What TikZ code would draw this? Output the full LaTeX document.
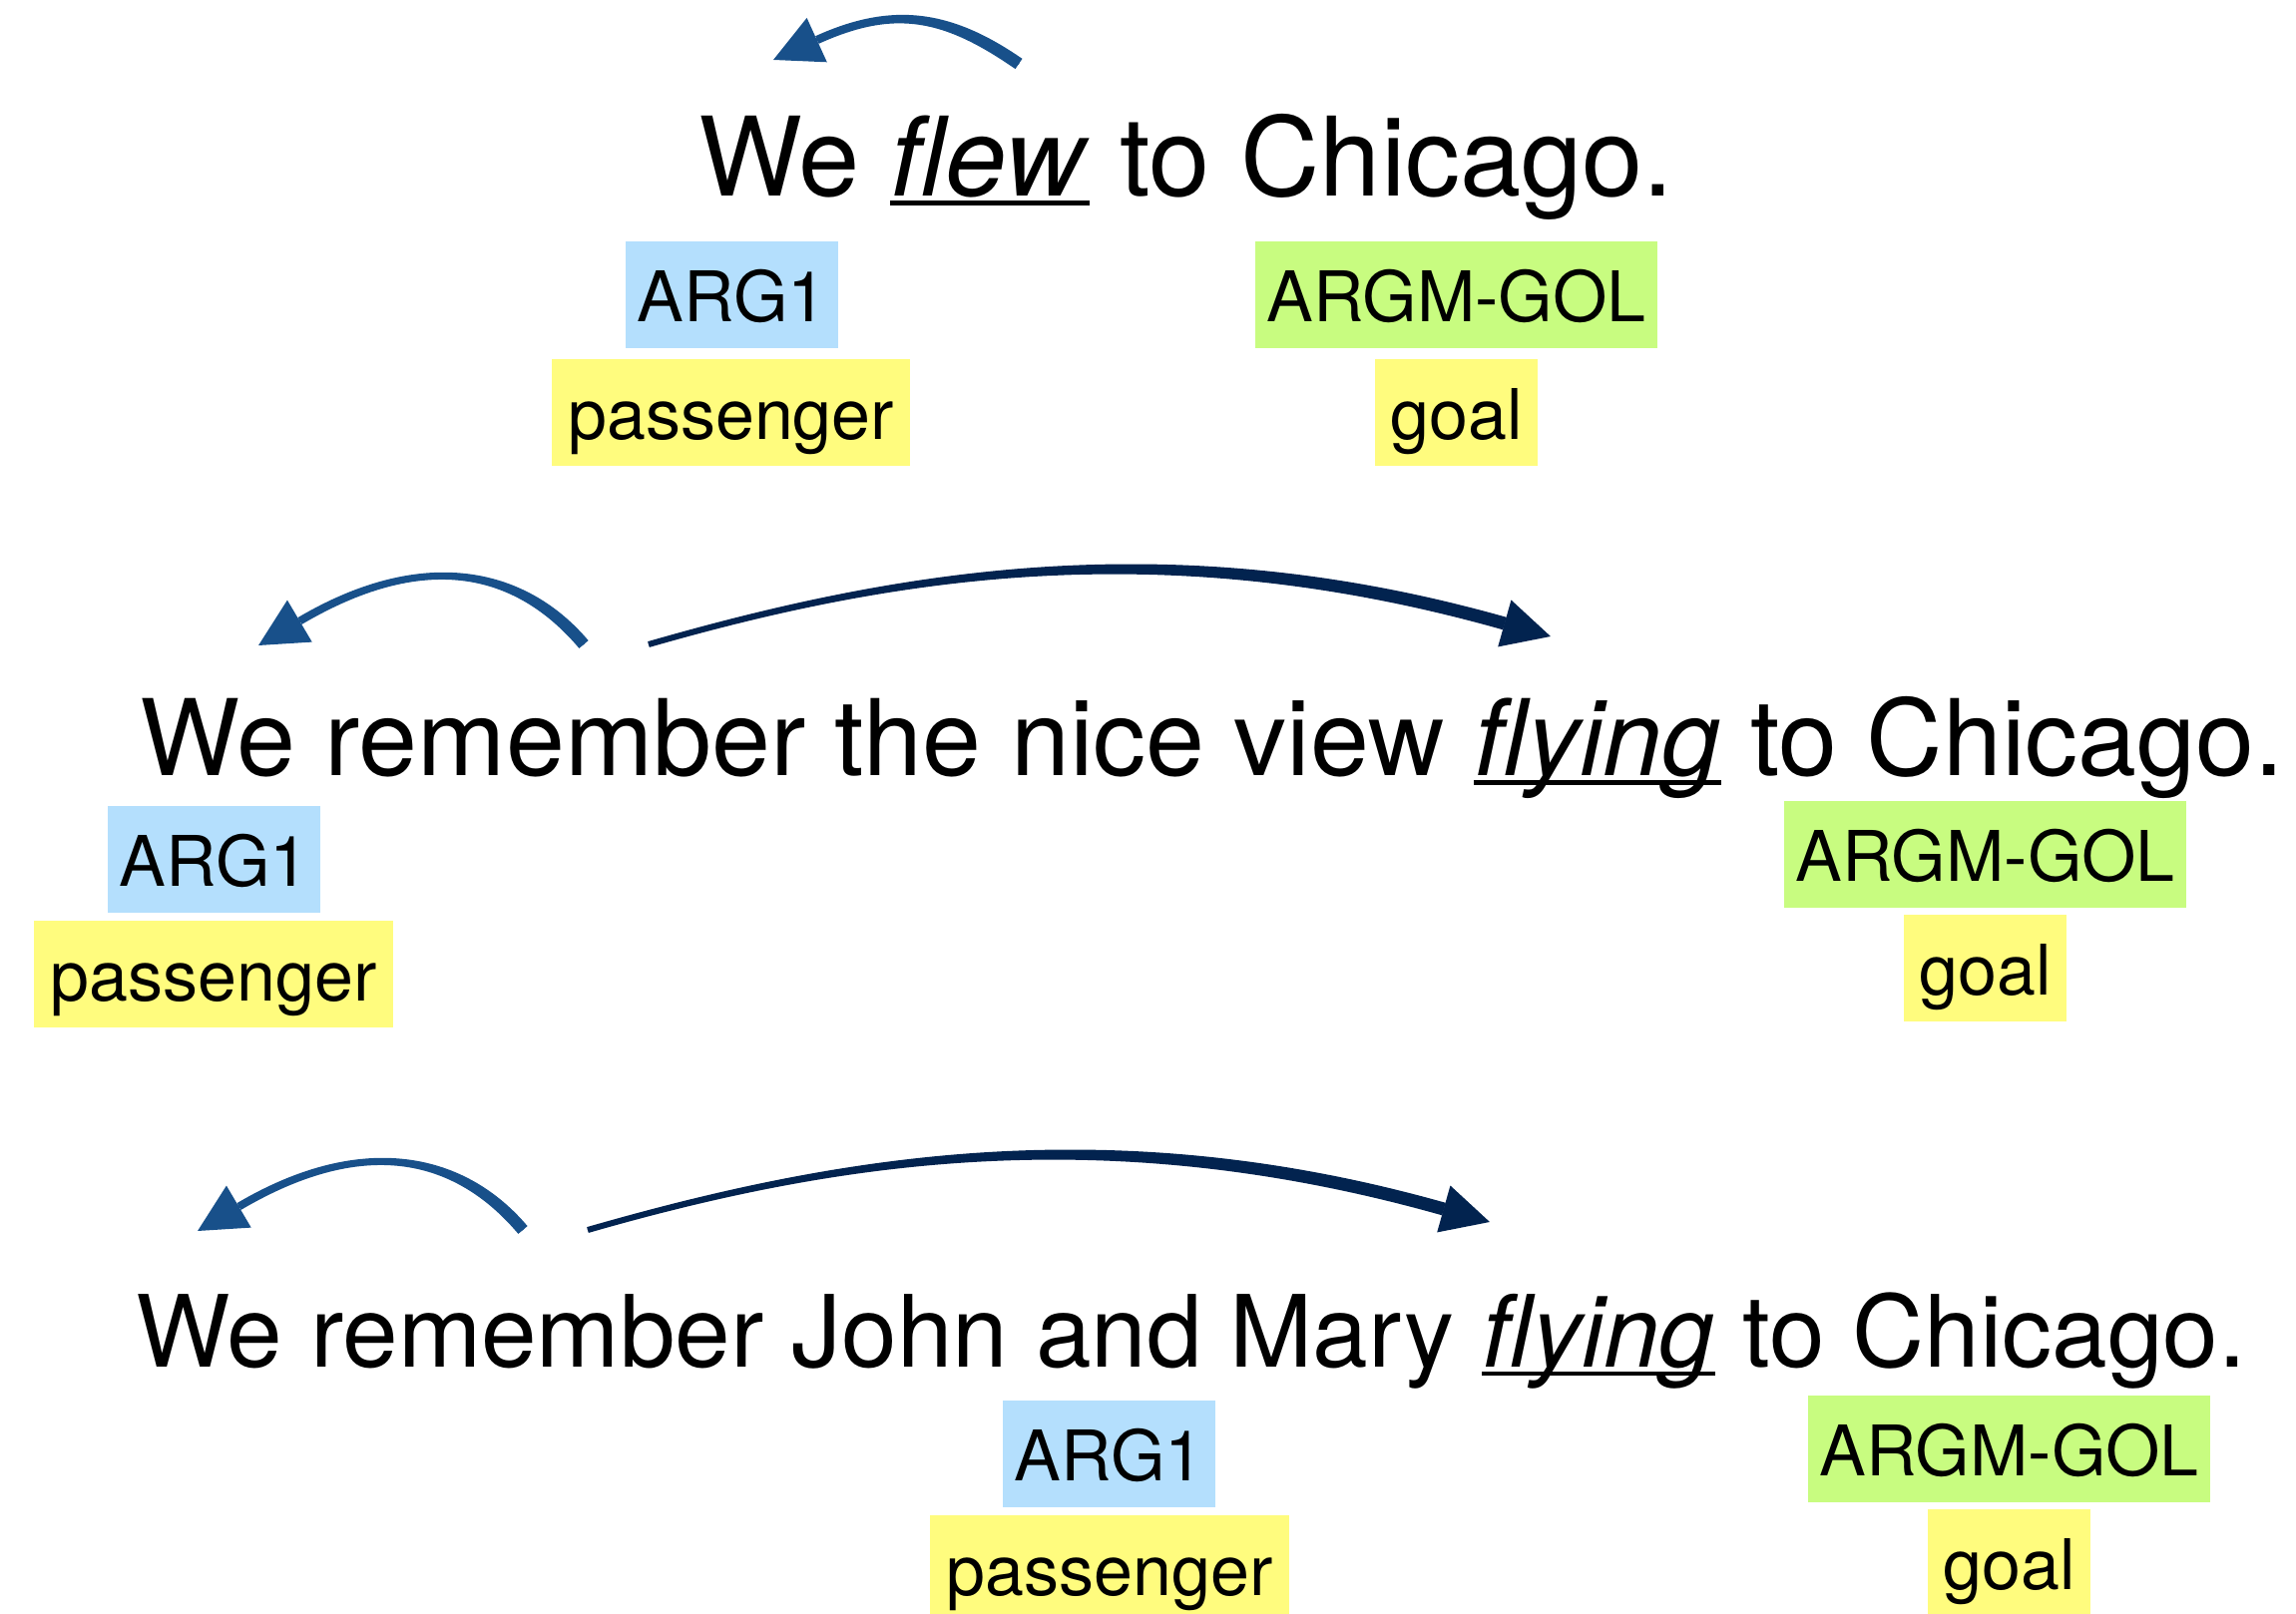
\documentclass[tikz,border=0pt]{standalone}
\usepackage{fontspec}
\setmainfont{TeX Gyre Heros}
\usetikzlibrary{arrows.meta}
\definecolor{argblue}{HTML}{B4DFFD}
\definecolor{arggreen}{HTML}{C8FC80}
\definecolor{argyellow}{HTML}{FFFC7E}
\definecolor{arrowblue}{HTML}{18508A}
\definecolor{arrownavy}{HTML}{02234F}
\newsavebox\ulbox
\newcommand\ulword[1]{\sbox\ulbox{#1}\rlap{\rule[-0.09em]{\wd\ulbox}{0.045em}}\usebox\ulbox}
\begin{document}
\begin{tikzpicture}[x=1pt,y=-1pt,
  sent/.style={anchor=base west, inner sep=0pt},
  lab/.style={anchor=north west, inner xsep=0pt, inner ysep=0pt,
    minimum height=107pt, text height=80pt, text depth=27pt,
    font=\fontsize{70}{84}\selectfont},
  argbox/.style={lab, fill=argblue},
  golbox/.style={lab, fill=arggreen},
  rolbox/.style={lab, fill=argyellow},
  backarrow/.style={draw=arrowblue, line width=3pt,
    -{Triangle[length=48pt,width=48pt]}},
  fwdarrow/.style={draw=arrownavy, line width=3pt,
    -{Triangle[length=48pt,width=48pt]}}]
\useasboundingbox (0,0) rectangle (2301,1617);
\fill[white] (0,0) rectangle (2301,1617);

% ---- sentence 1
\node[sent, font=\fontsize{110}{130}\selectfont] (s1) at (700,196)
  {We \ulword{\textit{flew}} to Chicago.};
\node[argbox, minimum width=213pt] (a1) at (627,242) {ARG1};
\node[rolbox, minimum width=359pt] (p1) at (553,360) {passenger};
\node[golbox, minimum width=403pt] (g1) at (1258,242) {ARGM-GOL};
\node[rolbox, minimum width=163pt] (o1) at (1378,360) {goal};
\coordinate (t1) at (1021,64);
\coordinate (k1) at (950,15);
\coordinate (m1) at (896.4,4.8);
\coordinate (b1) at (818.9,40);
\coordinate (h1) at (775,60);
% tapered shaft
\fill[arrowblue] (1024.5,58.9) .. controls (953.5,9.9) and (894.7,1.0) .. (817.2,36.2)
  -- (820.6,43.8) .. controls (898.1,8.6) and (946.5,20.1) .. (1017.5,69.1) -- cycle;
\draw[backarrow] (t1) .. controls (k1) and (m1) .. (b1) -- (h1);

% ---- sentence 2
\node[sent, font=\fontsize{106}{126}\selectfont] (s2) at (140,777)
  {We remember the nice view \ulword{\textit{flying}} to Chicago.};
\node[argbox, minimum width=213pt] (a2) at (108,808) {ARG1};
\node[rolbox, minimum width=360pt] (p2) at (34,923) {passenger};
\node[golbox, minimum width=403pt] (g2) at (1788,803) {ARGM-GOL};
\node[rolbox, minimum width=163pt] (o2) at (1908,917) {goal};
\coordinate (t2a) at (585,646);
\coordinate (k2a) at (525,575);
\coordinate (m2a) at (429.7,546.3);
\coordinate (b2a) at (300.5,622.5);
\coordinate (h2a) at (259,647);
\fill[arrowblue] (589.6,642.1) .. controls (529.6,571.1) and (427.7,542.9) .. (298.5,619.1)
  -- (302.5,625.9) .. controls (431.7,549.7) and (520.4,578.9) .. (580.4,649.9) -- cycle;
\draw[backarrow] (t2a) .. controls (k2a) and (m2a) .. (b2a) -- (h2a);
\coordinate (t2b) at (650,646);
\coordinate (k2b) at (900,574);
\coordinate (m2b) at (1171.3,529.8);
\coordinate (b2b) at (1508,625);
\coordinate (h2b) at (1554,638);
\fill[arrownavy] (650.8,648.9) .. controls (900.8,576.9) and (1169.5,536.1) .. (1506.2,631.3)
  -- (1509.8,618.8) .. controls (1173.1,523.6) and (899.2,571.1) .. (649.2,643.1) -- cycle;
\draw[fwdarrow] (t2b) .. controls (k2b) and (m2b) .. (b2b) -- (h2b);

% ---- sentence 3
\node[sent, font=\fontsize{100}{120}\selectfont] (s3) at (136,1370)
  {We remember John and Mary \ulword{\textit{flying}} to Chicago.};
\node[argbox, minimum width=213pt] (a3) at (1005,1404) {ARG1};
\node[rolbox, minimum width=360pt] (p3) at (932,1519) {passenger};
\node[golbox, minimum width=403pt] (g3) at (1812,1399) {ARGM-GOL};
\node[rolbox, minimum width=163pt] (o3) at (1932,1513) {goal};
\coordinate (t3a) at (524,1233);
\coordinate (k3a) at (464,1162);
\coordinate (m3a) at (368.7,1133.3);
\coordinate (b3a) at (239.5,1209.5);
\coordinate (h3a) at (198,1234);
\fill[arrowblue] (528.6,1229.1) .. controls (468.6,1158.1) and (366.7,1129.9) .. (237.5,1206.1)
  -- (241.5,1212.9) .. controls (370.7,1136.7) and (459.4,1165.9) .. (519.4,1236.9) -- cycle;
\draw[backarrow] (t3a) .. controls (k3a) and (m3a) .. (b3a) -- (h3a);
\coordinate (t3b) at (589,1233);
\coordinate (k3b) at (839,1161);
\coordinate (m3b) at (1110.3,1116.8);
\coordinate (b3b) at (1447,1212);
\coordinate (h3b) at (1493,1225);
\fill[arrownavy] (589.8,1235.9) .. controls (839.8,1163.9) and (1108.5,1123.1) .. (1445.2,1218.3)
  -- (1448.8,1205.8) .. controls (1112.1,1110.6) and (838.2,1158.1) .. (588.2,1230.1) -- cycle;
\draw[fwdarrow] (t3b) .. controls (k3b) and (m3b) .. (b3b) -- (h3b);
\end{tikzpicture}
\end{document}
